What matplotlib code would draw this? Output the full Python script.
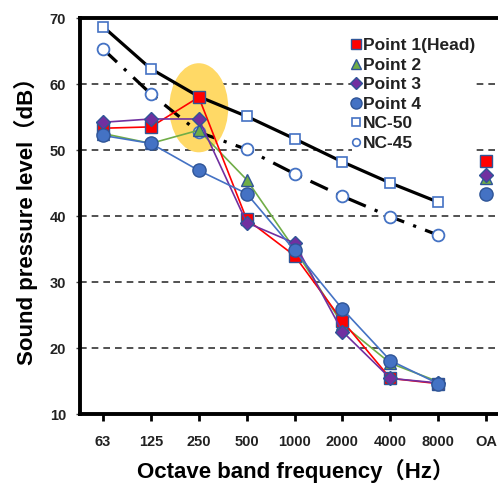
import matplotlib
matplotlib.use("Agg")
import matplotlib.pyplot as plt
from matplotlib.patches import Ellipse
from matplotlib.lines import Line2D

plt.rcParams['font.family'] = ['Liberation Sans', 'Noto Sans CJK JP', 'DejaVu Sans']

bands = ['63', '125', '250', '500', '1000', '2000', '4000', '8000']
tick_labels = bands + ['OA']

point1 = [53.3, 53.5, 58.0, 39.5, 34.0, 24.1, 15.4, 14.6]
point2 = [52.5, 51.0, 53.0, 45.5, 35.0, 23.6, 17.7, 14.9]
point3 = [54.2, 54.7, 54.7, 39.0, 35.9, 22.5, 15.4, 14.7]
point4 = [52.2, 51.0, 46.9, 43.4, 34.8, 25.9, 18.1, 14.6]
nc50 = [68.7, 62.3, 58.1, 55.1, 51.7, 48.2, 45.0, 42.1]
nc45 = [65.3, 58.5, 52.7, 50.1, 46.4, 43.0, 39.9, 37.1]
oa = {'Point 1': 48.4, 'Point 2': 45.7, 'Point 3': 46.2, 'Point 4': 43.4}

W, H = 498, 484
fig = plt.figure(figsize=(W/100, H/100), dpi=100)
ax = fig.add_axes([80/W, (H-414)/H, 431/W, 396/H])

x = list(range(len(bands)))
x_oa = len(bands)

edge = '#2F5597'
# NC curves
ax.plot(x, nc50, color='black', lw=2.3, zorder=3)
ax.plot(x, nc50, ls='none', marker='s', ms=6.5, mfc='white', mec='#4472C4', mew=1.2, zorder=4)
ax.plot(x, nc45, color='black', lw=2.3, dashes=(6, 3, 1, 3), zorder=3)
ax.plot(x, nc45, ls='none', marker='o', ms=8.5, mfc='white', mec='#4472C4', mew=1.3, zorder=4)

series = [
    ('Point 2', point2, '#70AD47', '^', 9),
    ('Point 1', point1, '#FF0000', 's', 8.5),
    ('Point 3', point3, '#7030A0', 'D', 7.5),
    ('Point 4', point4, '#4472C4', 'o', 9.5),
]
z = 5
for name, vals, col, mk, ms in series:
    ax.plot(x, vals, color=col, lw=1.2, zorder=z)
    ax.plot(x, vals, ls='none', marker=mk, ms=ms, mfc=col, mec=edge, mew=1.0, zorder=z + 0.5)
    ax.plot([x_oa], [oa[name]], ls='none', marker=mk, ms=ms, mfc=col, mec=edge, mew=1.0, zorder=z + 0.5)
    z += 1

# highlight ellipse
ax.add_patch(Ellipse((2, 56.4), 1.23, 13.5, facecolor='#FFD966', edgecolor='none', zorder=2))

ax.set_xlim(-0.48, 8.52)
ax.set_ylim(10, 70)
ax.set_yticks(range(10, 71, 10))
ax.set_xticks(range(len(tick_labels)))
ax.set_xticklabels(tick_labels)
for yv in [20, 30, 40, 50, 60]:
    ax.axhline(yv, color='#333333', lw=1.2, dashes=(4, 3), zorder=1)

for s in ax.spines.values():
    s.set_linewidth(2.8)
    s.set_color('black')

ax.tick_params(axis='y', direction='out', length=3, width=1, color='#444444', pad=7,
               labelsize=10.5, labelcolor='#222222')
ax.tick_params(axis='x', direction='out', length=5, width=2, color='black', pad=10,
               labelsize=10.5, labelcolor='#222222')
for lab in ax.get_xticklabels() + ax.get_yticklabels():
    lab.set_fontweight('bold')

ax.set_xlabel('Octave band frequency（Hz）', fontsize=16, fontweight='bold', labelpad=7)
ax.set_ylabel('Sound pressure level（dB）', fontsize=16, fontweight='bold', labelpad=8)

handles = [
    Line2D([], [], ls='none', marker='s', ms=7, mfc='#FF0000', mec=edge, mew=1.0),
    Line2D([], [], ls='none', marker='^', ms=7.5, mfc='#70AD47', mec=edge, mew=1.0),
    Line2D([], [], ls='none', marker='D', ms=6.5, mfc='#7030A0', mec=edge, mew=1.0),
    Line2D([], [], ls='none', marker='o', ms=8, mfc='#4472C4', mec=edge, mew=1.0),
    Line2D([], [], ls='none', marker='s', ms=5.5, mfc='white', mec='#4472C4', mew=1.2),
    Line2D([], [], ls='none', marker='o', ms=5.5, mfc='white', mec='#4472C4', mew=1.2),
]
labels = ['Point 1(Head)', 'Point 2', 'Point 3', 'Point 4', 'NC-50', 'NC-45']
leg = fig.legend(handles, labels, loc='upper left', bbox_to_anchor=(352/W, 1 - 38/H),
                 frameon=True, facecolor='white', edgecolor='none', framealpha=1.0,
                 fancybox=False, shadow=False,
                 handlelength=0.5, handletextpad=0.15, labelspacing=0.25,
                 borderpad=0, borderaxespad=0,
                 prop={'size': 12.5, 'weight': 'bold'})
for t in leg.get_texts():
    t.set_color('#222222')

fig.savefig('out.png', dpi=100)
